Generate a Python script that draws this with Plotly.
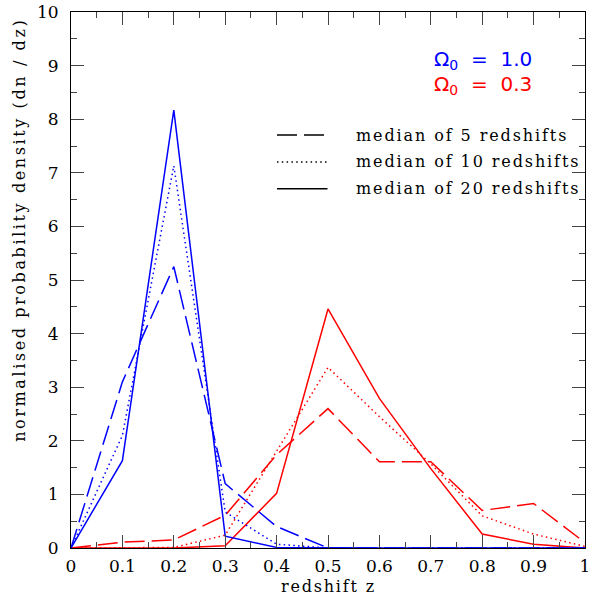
import plotly.graph_objects as go

z = [0.0, 0.1, 0.2, 0.3, 0.4, 0.5, 0.6, 0.7, 0.8, 0.9, 1.0]

# Omega_0 = 1.0 (blue)
blue_5 = [0.0, 3.1, 5.25, 1.2, 0.4, 0.0, 0.0, 0.0, 0.0, 0.0, 0.0]
blue_10 = [0.0, 2.1, 7.13, 0.67, 0.07, 0.0, 0.0, 0.0, 0.0, 0.0, 0.0]
blue_20 = [0.0, 1.63, 8.17, 0.22, 0.01, 0.0, 0.0, 0.0, 0.0, 0.0, 0.0]

# Omega_0 = 0.3 (red)
red_5 = [0.0, 0.11, 0.15, 0.61, 1.74, 2.6, 1.61, 1.61, 0.7, 0.83, 0.1]
red_10 = [0.0, 0.0, 0.01, 0.24, 1.8, 3.37, 2.45, 1.57, 0.6, 0.26, 0.03]
red_20 = [0.0, 0.0, 0.0, 0.04, 1.02, 4.46, 2.79, 1.48, 0.26, 0.07, 0.0]

legend_labels = ["median of 5 redshifts", "median of 10 redshifts", "median of 20 redshifts"]
omega_labels = ["Ω<sub>0</sub>  =  1.0", "Ω<sub>0</sub>  =  0.3"]
x_title = "redshift z"
y_title = "normalised probability density (dn / dz)"

DASH = "20px,7px"
DOT = "1.5px,3.3px"
LW = 1.5
BLUE = "#0000ff"
RED = "#ff0000"
SERIF = "DejaVu Serif"


def spaced(text, ls):
    return '<span style="letter-spacing:%spx">%s</span>' % (ls, text)


fig = go.Figure()
for ys, d in [(red_5, DASH), (red_10, DOT), (red_20, "solid")]:
    fig.add_trace(go.Scatter(x=z, y=ys, mode="lines", line=dict(color=RED, width=LW, dash=d)))
for ys, d in [(blue_5, DASH), (blue_10, DOT), (blue_20, "solid")]:
    fig.add_trace(go.Scatter(x=z, y=ys, mode="lines", line=dict(color=BLUE, width=LW, dash=d)))

# legend (drawn manually)
leg_y = [132, 159, 186]
leg_dash = [DASH, DOT, "solid"]
for yy, d, lab in zip(leg_y, leg_dash, legend_labels):
    yp = 1 - (yy - 8) / 540.0
    fig.add_shape(type="line", xref="paper", yref="paper",
                  x0=(279 - 71) / 519.0, x1=(330 - 71) / 519.0, y0=yp, y1=yp,
                  line=dict(color="black", width=LW, dash=d))
    fig.add_annotation(xref="paper", yref="paper", x=(357 - 71) / 519.0, y=yp,
                       text=spaced(lab, 1.9), showarrow=False, xanchor="left", yanchor="middle",
                       font=dict(family=SERIF, size=16, color="black"))

for yy, lab, col in zip([56, 82], omega_labels, [BLUE, RED]):
    yp = 1 - (yy - 8) / 540.0
    fig.add_annotation(xref="paper", yref="paper", x=(538 - 71) / 519.0, y=yp,
                       text=lab, showarrow=False, xanchor="right", yanchor="middle",
                       font=dict(family="DejaVu Sans", size=20, color=col))

# axis titles as annotations
fig.add_annotation(xref="paper", yref="paper", x=0.5, y=-(587 - 548) / 540.0,
                   text=spaced(x_title, 1.8), showarrow=False, xanchor="center", yanchor="middle",
                   font=dict(family=SERIF, size=16, color="black"))
fig.add_annotation(xref="paper", yref="paper", x=-(71 - 19) / 519.0, y=1 - (228 - 8) / 540.0,
                   text=spaced(y_title, 2.6), showarrow=False, xanchor="center", yanchor="middle",
                   textangle=-90, font=dict(family=SERIF, size=16, color="black"))

axis_common = dict(
    showgrid=False, zeroline=False, showline=True, linecolor="black", linewidth=1,
    mirror="ticks", ticks="inside", ticklen=13, tickwidth=1, tickcolor="#444",
    tickfont=dict(family=SERIF, size=17, color="black"), ticklabeloverflow="allow",
)

fig.update_xaxes(range=[0, 1], tick0=0, dtick=0.1, ticklabelstandoff=3,
                 minor=dict(ticks="inside", ticklen=6, dtick=0.05, tickcolor="#444", tickwidth=1),
                 **axis_common)
fig.update_yaxes(range=[0, 10], tick0=0, dtick=1, ticklabelstandoff=8,
                 minor=dict(ticks="inside", ticklen=6, dtick=0.5, tickcolor="#444", tickwidth=1),
                 **axis_common)

fig.update_layout(width=592, height=603, margin=dict(l=71, r=2, t=8, b=55),
                  plot_bgcolor="white", paper_bgcolor="white", showlegend=False)

fig.write_html("out.html")
